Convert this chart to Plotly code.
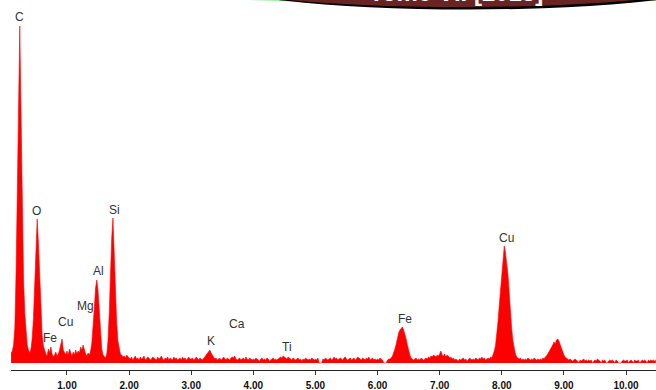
import plotly.graph_objects as go

# ---- data ----
energy_start_kev = 0.10
energy_step_kev = 0.02

counts_0 = [10, 12, 18, 35, 90, 180, 280, 337, 250, 150, 85, 50, 30, 18, 13, 10, 14, 25, 45, 80,
            118, 144, 120, 85, 50, 28, 17, 12, 9, 7, 14, 10, 16, 9, 6, 8, 11, 7, 9, 13,
            18, 24, 13, 10, 8]
counts_1 = [12, 8, 14, 9, 7, 11, 8, 13, 9, 12, 10, 16, 13, 18, 12, 9, 7, 10, 8, 12,
            20, 35, 55, 75, 83, 72, 50, 28, 14, 8, 6, 5, 9, 22, 50, 90, 125, 145, 110, 70,
            40, 22, 14, 9, 8, 6, 7, 5, 8, 6]
counts_2 = [5, 4, 6, 3, 5, 7, 4, 5, 3, 6, 4, 5, 7, 3, 4, 6, 5, 3, 4, 6,
            5, 4, 3, 6, 4, 5, 7, 4, 3, 5, 4, 6, 3, 5, 4, 3, 6, 4, 5, 3,
            4, 5, 3, 6, 4, 5, 3, 4, 6, 4]
counts_3 = [4, 5, 3, 4, 6, 4, 3, 5, 4, 3, 5, 6, 8, 10, 12, 13, 10, 8, 6, 4,
            5, 3, 4, 5, 3, 4, 6, 4, 3, 5, 4, 3, 5, 6, 5, 7, 4, 3, 4, 5,
            3, 4, 5, 3, 6, 4, 3, 5, 4, 3]
counts_4 = [4, 3, 5, 4, 3, 2, 4, 5, 3, 4, 3, 5, 4, 2, 3, 4, 5, 3, 4, 3,
            4, 5, 6, 5, 7, 6, 5, 4, 6, 5, 4, 3, 5, 4, 3, 4, 5, 3, 4, 2,
            4, 3, 5, 4, 3, 4, 3, 5, 4, 3]
counts_5 = [4, 3, 5, 0, 0, 0, 4, 3, 5, 4, 3, 4, 5, 3, 4, 6, 4, 5, 3, 4,
            5, 4, 3, 5, 6, 4, 3, 4, 5, 3, 4, 5, 3, 4, 6, 5, 4, 3, 5, 4,
            3, 5, 4, 6, 3, 4, 5, 3, 4, 3]
counts_6 = [4, 3, 5, 4, 3, 0, 0, 0, 3, 4, 4, 5, 7, 10, 14, 19, 25, 30, 33, 35,
            36, 33, 29, 24, 18, 12, 8, 5, 4, 3, 4, 5, 3, 4, 3, 5, 4, 3, 4, 5,
            4, 6, 5, 7, 6, 8, 7, 6, 8, 7]
counts_7 = [9, 12, 8, 7, 9, 6, 8, 7, 5, 6, 4, 5, 3, 4, 3, 2, 4, 3, 4, 5,
            3, 4, 2, 3, 5, 4, 3, 4, 3, 5, 4, 3, 5, 4, 6, 4, 5, 3, 4, 5,
            4, 6, 5, 8, 12, 18, 28, 42, 58, 75]
counts_8 = [92, 108, 117, 110, 100, 88, 70, 50, 34, 22, 14, 9, 6, 5, 4, 5, 3, 4, 3, 4,
            3, 5, 4, 3, 4, 3, 5, 4, 3, 4, 3, 4, 3, 5, 4, 6, 7, 9, 11, 13,
            15, 18, 21, 19, 23, 24, 22, 18, 14, 10]
counts_9 = [8, 6, 5, 4, 3, 4, 3, 2, 3, 4, 3, 2, 0, 3, 2, 3, 4, 2, 3, 2,
            3, 2, 3, 0, 2, 3, 2, 4, 3, 2, 0, 3, 2, 3, 0, 0, 2, 3, 2, 3,
            2, 0, 3, 2, 0, 0, 0, 2, 3, 2]
counts_10 = [2, 3, 0, 2, 3, 2, 0, 3, 2, 2, 3, 0, 2, 3, 2, 3, 2, 0, 3, 2,
             3, 2, 3, 2, 3]

tick_values = [1, 2, 3, 4, 5, 6, 7, 8, 9, 10]
tick_labels = ["1.00", "2.00", "3.00", "4.00", "5.00", "6.00", "7.00", "8.00", "9.00", "10.00"]

peak_names = ["C", "O", "Fe", "Cu", "Mg", "Al", "Si", "K", "Ca", "Ti", "Fe", "Cu"]
peak_label_kev = [0.243, 0.517, 0.726, 0.968, 1.29, 1.515, 1.757, 3.32, 3.74, 4.54, 6.44, 8.07]
peak_label_y = [346, 152, 25, 41, 57, 92, 153, 22, 39, 16, 44, 125]

banner_text = "Tome VII [2015]"

# ---- build ----
counts = (counts_0 + counts_1 + counts_2 + counts_3 + counts_4 + counts_5 +
          counts_6 + counts_7 + counts_8 + counts_9 + counts_10)
energy = [round(energy_start_kev + i * energy_step_kev, 3) for i in range(len(counts))]

fig = go.Figure()
fig.add_trace(go.Scatter(
    x=energy, y=counts, mode="lines",
    line=dict(color="#ff0000", width=0.6),
    fill="tozeroy", fillcolor="#ff0000",
    hoverinfo="x+y", showlegend=False,
))

W, H = 656, 390
ML, MR, MT, MB = 11, 0, 10, 20
PW, PH = W - ML - MR, H - MT - MB


def px2paper_x(px):
    return (px - ML) / PW


def py2paper_y(py):
    return (H - MB - py) / PH


for name, xk, yv in zip(peak_names, peak_label_kev, peak_label_y):
    fig.add_annotation(x=xk, y=yv, text=name, showarrow=False,
                       font=dict(family="Arial", size=12, color="#333333"),
                       xanchor="center", yanchor="middle")


# banner (cropped watermark at the top)
def ellipse(cx, cy, rx, ry, color):
    fig.add_shape(type="circle", xref="paper", yref="paper",
                  x0=px2paper_x(cx - rx), x1=px2paper_x(cx + rx),
                  y0=py2paper_y(cy + ry), y1=py2paper_y(cy - ry),
                  fillcolor=color, line=dict(width=0), layer="above")


ellipse(462, -20, 385, 24, "#a8f0a8")
ellipse(468, -20, 258, 29.5, "#000000")
ellipse(462, -20, 258, 27, "#6b2424")
fig.add_annotation(xref="paper", yref="paper", x=px2paper_x(456), y=py2paper_y(8),
                   text="<b>" + banner_text + "</b>", showarrow=False,
                   font=dict(family="Arial", size=24, color="#ffffff"),
                   xanchor="center", yanchor="bottom")

fig.update_layout(
    width=W, height=H,
    margin=dict(l=ML, r=MR, t=MT, b=MB),
    paper_bgcolor="white", plot_bgcolor="white",
    xaxis=dict(range=[0.0985, 10.483], showgrid=False, zeroline=False,
               showline=True, linecolor="#222222", linewidth=1,
               ticks="outside", ticklen=4, tickcolor="#333333", tickwidth=1,
               tickvals=tick_values, ticktext=tick_labels,
               tickfont=dict(family="Arial", size=10, color="#111111", weight="bold"),
               ticklabelstandoff=2),
    yaxis=dict(range=[-7, 353], visible=False),
)

fig.write_html("out.html")
